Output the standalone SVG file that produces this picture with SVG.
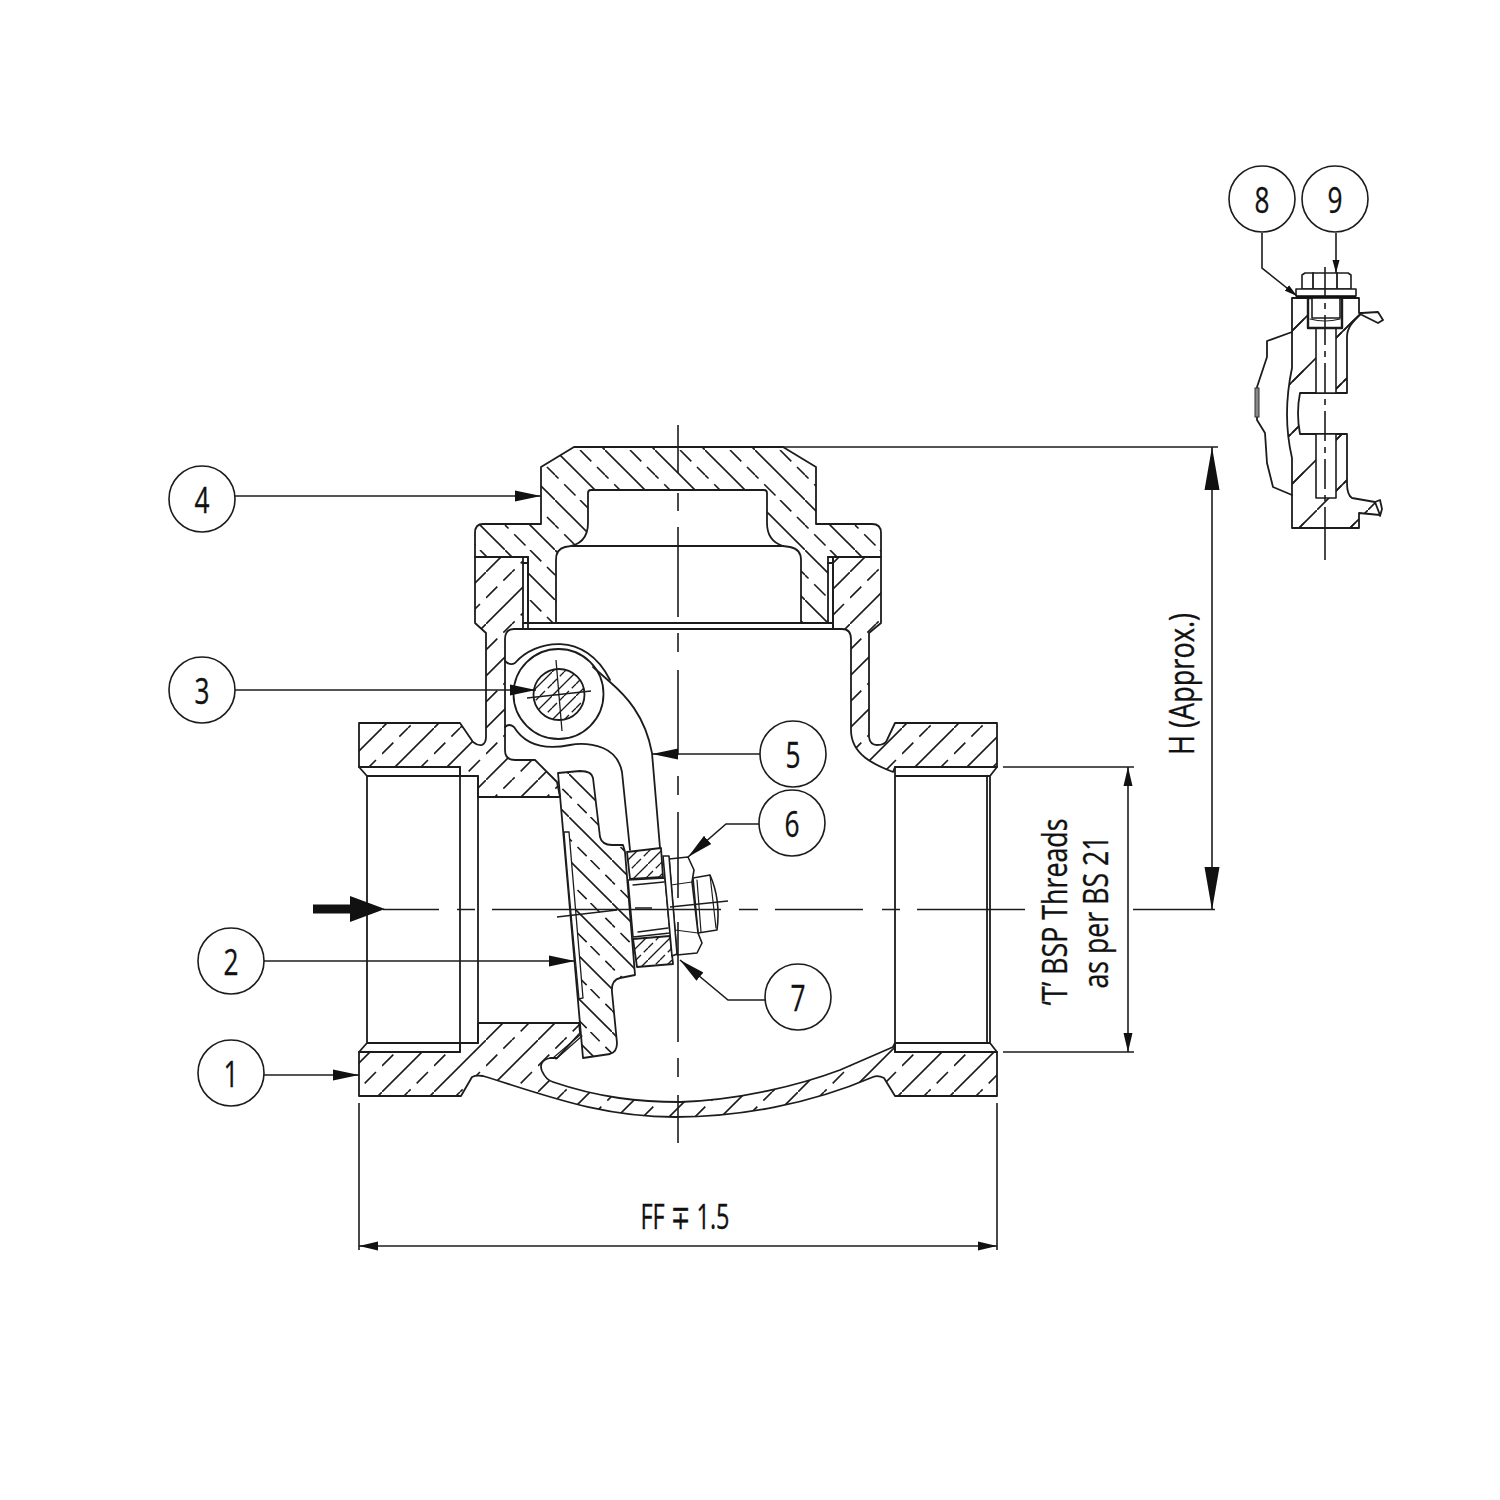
<svg xmlns="http://www.w3.org/2000/svg" width="1500" height="1500" viewBox="0 0 1500 1500">
<style>
.o{fill:none;stroke:#1c1c1c;stroke-width:1.8;stroke-linejoin:round;stroke-linecap:round}
.w{fill:#fff;stroke:#1c1c1c;stroke-width:1.6;stroke-linejoin:round}
.t{stroke:#1c1c1c;stroke-width:1.3;fill:none}
.c{fill:none;stroke:#1c1c1c;stroke-width:1.6}
.h{stroke:#1c1c1c;stroke-width:1.6;fill:none}
.d{stroke:#1c1c1c;stroke-width:1.6;fill:none}
.circ{fill:#fff;stroke:#1c1c1c;stroke-width:1.6}
text{font-family:"Open Sans","Noto Sans","DejaVu Sans",sans-serif;fill:#111;stroke:#111;stroke-width:.35}
.n{font-size:37px;text-anchor:middle}
.l{font-size:34px;text-anchor:middle}
</style>
<defs>
<pattern id="hBody" width="52" height="52" patternUnits="userSpaceOnUse" patternTransform="translate(18 0)">
<path class="h" d="M-2 54L54 -2"/><path class="h" stroke-dasharray="16 8.5" d="M0 26L26 0"/><path class="h" stroke-dasharray="16 8.5" stroke-dashoffset="12.25" d="M26 52L52 26"/>
</pattern>
<pattern id="hInsert" width="50" height="50" patternUnits="userSpaceOnUse" patternTransform="translate(9 0)">
<path class="h" d="M-2 52L52 -2"/><path class="h" stroke-dasharray="16 8" d="M0 25L25 0"/><path class="h" stroke-dasharray="16 8" stroke-dashoffset="11" d="M25 50L50 25"/>
</pattern>
<pattern id="hCap" width="50" height="50" patternUnits="userSpaceOnUse" patternTransform="translate(5 0)">
<path class="h" d="M-2 -2L52 52"/><path class="h" stroke-dasharray="16 8" d="M25 0L50 25"/><path class="h" stroke-dasharray="16 8" stroke-dashoffset="11" d="M0 25L25 50"/>
</pattern>
<pattern id="hDisc" width="43" height="43" patternUnits="userSpaceOnUse" patternTransform="translate(10 0)">
<path class="h" d="M-2 -2L45 45"/><path class="h" stroke-dasharray="13 8" d="M21.500 0L43 21.500"/><path class="h" stroke-dasharray="13 8" stroke-dashoffset="9" d="M0 21.500L21.500 43"/>
</pattern>
<pattern id="hSmall" width="24" height="24" patternUnits="userSpaceOnUse">
<path class="t" d="M-2 26L26 -2"/><path class="t" stroke-dasharray="7 4" d="M0 12L12 0M12 24L24 12"/>
</pattern>
<pattern id="hInset" width="51" height="51" patternUnits="userSpaceOnUse" patternTransform="translate(42 0)">
<path class="h" d="M-2 53L53 -2"/><path class="h" d="M13 38L25 26M38 13L25 26" stroke-dasharray="16 30"/>
</pattern>
<marker id="aL" markerUnits="userSpaceOnUse" markerWidth="27" markerHeight="12" refX="26" refY="6" orient="auto"><path d="M0 0.500L26 6L0 11.500Z" fill="#111"/></marker>
<marker id="aS" markerUnits="userSpaceOnUse" markerWidth="14" markerHeight="8" refX="13" refY="4" orient="auto"><path d="M0 0.500L13 4L0 7.500Z" fill="#111"/></marker>
<marker id="aD" markerUnits="userSpaceOnUse" markerWidth="20" markerHeight="10" refX="19" refY="5" orient="auto-start-reverse"><path d="M0 0.500L19 5L0 9.500Z" fill="#111"/></marker>
<marker id="aH" markerUnits="userSpaceOnUse" markerWidth="44" markerHeight="16" refX="43" refY="8" orient="auto-start-reverse"><path d="M0 0.500L43 8L0 15.500Z" fill="#111"/></marker>
</defs>
<rect width="1500" height="1500" fill="#fff"/>

<g id="valve-body">
<path class="o" style="fill:url(#hBody)" d="M359 723H460L473 742Q478 746 482 745Q486 743 486 737V633L475 623V557H523V629H514Q505 629 505 639V750Q505 760 515 760H535L557 782L560 797H478V776H460V767H359Z"/>
<path class="o" style="fill:url(#hBody)" d="M359 1052H460V1043H478V1023H579L580 1033L557 1058H550Q538 1061 542 1071Q546 1080 553 1082C600 1098 640 1102 680 1102C740 1100 800 1085 840 1070L893 1047L895 1043V1052H997V1096H895L884 1078Q878 1075 873 1077C810 1104 740 1117 675 1117C600 1117 545 1095 483 1076Q476 1075 472 1077L461 1096H359Z"/>
<path class="o" style="fill:url(#hBody)" d="M895 723H997V767H895L893 772C875 765 851 755 851 730V639Q851 629 842 629H833V557H881V623L869 633V737Q870 745 877 745Q885 745 887 740Z"/>
<path class="o" d="M367 776H478V1043H367ZM359 767L367 776M359 1052L367 1043M460 767V1052M478 797H560M478 1023H579"/>
<path class="o" d="M895 767V1052M895 776H990V1043H895M990 776L997 767M990 1043L997 1052M987 776V1043"/>
<path class="o" d="M553 1058L580 1035M556 1059L582 1036" style="stroke-width:1.2"/>
</g>

<g id="bonnet">
<path class="o" style="fill:url(#hCap)" d="M574 447H783L816 467V524H872Q881 524 881 533V557H828V623H801V560Q801 549 790 547L783 546Q767 541 767 523V493Q767 490 764 490H591Q588 490 588 493V523Q588 545 565 547Q556 549 556 560V623H528V557H475V533Q475 524 483 524H541V467Z"/>
<path class="o" d="M572 546H783M523 623H833M523 629H833M523 557H528V629M828 557H833V629M523 563H528M828 563H833"/>
</g>

<g id="hinge-arm">
<path class="o" d="M505 661Q510 666 515 663C535 640 585 630 610 680"/>
<circle class="o" cx="558.500" cy="694" r="45"/>
<path class="o" d="M593 667L610 682C625 695 645 715 652 753L660 848"/>
<path class="o" d="M505 727Q509 723 514 727C525 745 545 750 570 745C585 742 595 745 603 748C615 753 620 762 622 772L630 850"/>
<circle class="t" cx="559" cy="694.500" r="25.500" style="fill:url(#hSmall);stroke-width:1.8"/>
<path class="t" d="M556 660L562 731M527 698L591 691"/>
</g>

<g id="disc">
<path class="o" style="fill:url(#hDisc)" d="M558 773L580 771Q592 771 593 778L600 837Q602 845 612 845H623L625 852L635 975L620 978Q611 980 612 992L617 1043Q617 1052 610 1054L583 1058Z"/>
<path d="M564 832L569 832L583 998L579 999C574 945 568 885 564 832Z" fill="#fff" stroke="#1c1c1c" stroke-width="1.300"/>
</g>

<g id="nut-assembly">
<path class="o" style="fill:url(#hSmall)" d="M627 852L661 848L663 877L630 879Z"/>
<path class="o" style="fill:url(#hSmall)" d="M633 939L670 936L673 964L637 967Z"/>
<path class="w" d="M628 880L665 878L670 933L633 937Z"/>
<path class="o" d="M633 885L664 882M638 932L668 928" style="stroke-width:1.300"/>
<path class="w" d="M693 878L710 875Q721 900 717 930L698 933Z"/>
<path class="o" d="M697 880L701 932M710 875L716 928" style="stroke-width:1.200"/>
<path class="w" d="M669 859L688 857L694 870L692 882L698 933L702 943L697 953L677 955Z"/>
<path class="o" d="M671 885L692 882M675 930L698 933" style="stroke-width:1.200"/>
<path class="w" d="M663 856L669 856L677 954L672 956Z"/>
<path class="t" d="M557 917L617 910M670 907L728 901M635 908H652"/>
</g>

<g id="detail-inset">
<path class="o" style="fill:url(#hInset)" d="M1292 298H1359V313H1362C1352 322 1347 328 1347 337V393H1300Q1296 413 1300 434H1347V483Q1347 495 1352 498L1375 502L1380 515L1359 513V528H1292V458Q1282 415 1292 368Z"/>
<path class="o" d="M1362 313L1378 312L1383 320L1378 323L1362 315M1375 502L1380 500L1382 509L1380 516"/>
<path class="w" d="M1316 328H1336V393H1316ZM1316 434H1336V498H1316Z"/>
<path class="w" style="stroke-width:2.400" d="M1308 298H1342V328H1308Z"/>
<path class="w" d="M1312 298H1340V318H1312Z"/>
<path class="o" d="M1310 319Q1325 323 1340 319" style="stroke-width:1.200"/>
<path class="w" d="M1302 289V275L1305 273H1348L1351 275V289Z"/>
<path class="o" d="M1313 273V289M1337 273V289"/>
<rect x="1296" y="289" width="60" height="7" class="w"/>
<path d="M1296 297H1356" stroke="#111" stroke-width="2.600"/>
<path class="o" d="M1292 332L1267 341V357L1257 387V420L1265 433L1267 463L1273 487L1292 495"/>
<rect x="1255" y="388" width="4" height="29" fill="#888" stroke="#333"/>
<path class="c" stroke-dasharray="30 6 6 6" d="M1325 267V530"/>
<path class="c" d="M1325 530V560"/>
</g>

<g id="centerlines">
<path class="c" d="M383 909.500H439M457 909.500H475M492 909.500H721M739 909.500H758M775 909.500H863M882 909.500H900M917 909.500H1025M1133 909.500H1215"/>
<path class="c" d="M678 425V473M678 493V511M678 527V617M678 633V652M678 670V755M678 776V795M678 812V898M678 922V1042M678 1058V1077M678 1095V1143"/>
</g>

<g id="connectors">
<path class="c" marker-end="url(#aL)" d="M235 496H541"/>
<path class="c" marker-end="url(#aL)" d="M235 690H536"/>
<path class="c" marker-end="url(#aL)" d="M264 961H575"/>
<path class="c" marker-end="url(#aL)" d="M264 1075H359"/>
<path class="c" marker-end="url(#aL)" d="M760 754H652"/>
<path class="c" marker-end="url(#aL)" d="M759 824H726L688 857"/>
<path class="c" marker-end="url(#aL)" d="M766 1000H728L680 960"/>
<path class="c" marker-end="url(#aS)" d="M1262 233V268L1297 296"/>
<path class="c" marker-end="url(#aS)" d="M1336 233V273"/>
<path d="M313 904.500H350V896L385 909L350 922V913.500H313Z" fill="#111"/>
</g>

<g id="dimensions">
<path class="d" d="M359 1103V1250M997 1103V1250M783 447H1218M1003 767H1134M1003 1052H1134"/>
<path class="d" marker-start="url(#aD)" marker-end="url(#aD)" d="M359 1246H997"/>
<path class="d" marker-start="url(#aD)" marker-end="url(#aD)" d="M1128 767V1052"/>
<path class="d" marker-start="url(#aH)" marker-end="url(#aH)" d="M1212 447V910"/>
<text class="l" x="685" y="1229" textLength="89" lengthAdjust="spacingAndGlyphs">FF ∓ 1.5</text>
<text class="l" transform="translate(1194 684) rotate(-90)" textLength="142" lengthAdjust="spacingAndGlyphs">H (Approx.)</text>
<text class="l" transform="translate(1067 912) rotate(-90)" textLength="187" lengthAdjust="spacingAndGlyphs">‘T’ BSP Threads</text>
<text class="l" transform="translate(1108 912) rotate(-90)" textLength="153" lengthAdjust="spacingAndGlyphs">as per BS 21</text>
</g>

<g id="balloon-1"><circle class="circ" cx="231" cy="1073" r="33"/><text class="n" x="231" y="1087" textLength="15" lengthAdjust="spacingAndGlyphs">1</text></g>
<g id="balloon-2"><circle class="circ" cx="231" cy="961" r="33"/><text class="n" x="231" y="975" textLength="15" lengthAdjust="spacingAndGlyphs">2</text></g>
<g id="balloon-3"><circle class="circ" cx="202" cy="690" r="33"/><text class="n" x="202" y="704" textLength="15" lengthAdjust="spacingAndGlyphs">3</text></g>
<g id="balloon-4"><circle class="circ" cx="202" cy="499" r="33"/><text class="n" x="202" y="513" textLength="15" lengthAdjust="spacingAndGlyphs">4</text></g>
<g id="balloon-5"><circle class="circ" cx="793" cy="754" r="33"/><text class="n" x="793" y="768" textLength="15" lengthAdjust="spacingAndGlyphs">5</text></g>
<g id="balloon-6"><circle class="circ" cx="792" cy="823" r="33"/><text class="n" x="792" y="837" textLength="15" lengthAdjust="spacingAndGlyphs">6</text></g>
<g id="balloon-7"><circle class="circ" cx="798" cy="997" r="33"/><text class="n" x="798" y="1011" textLength="15" lengthAdjust="spacingAndGlyphs">7</text></g>
<g id="balloon-8"><circle class="circ" cx="1262" cy="199" r="33"/><text class="n" x="1262" y="213" textLength="15" lengthAdjust="spacingAndGlyphs">8</text></g>
<g id="balloon-9"><circle class="circ" cx="1335" cy="199" r="33"/><text class="n" x="1335" y="213" textLength="15" lengthAdjust="spacingAndGlyphs">9</text></g>
</svg>
